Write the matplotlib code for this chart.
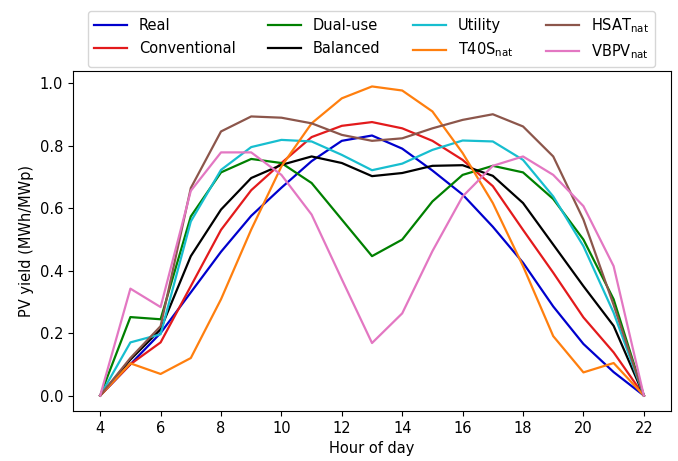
import matplotlib.pyplot as plt
import numpy as np

# Hourly PV yield per configuration (MWh/MWp)
hours = np.arange(4, 23)

real = [0.0, 0.10, 0.20, 0.33, 0.46, 0.575, 0.665, 0.75, 0.815, 0.832,
        0.79, 0.72, 0.643, 0.54, 0.425, 0.285, 0.165, 0.075, 0.0]
conventional = [0.0, 0.10, 0.17, 0.35, 0.53, 0.657, 0.744, 0.827, 0.863, 0.875,
                0.855, 0.815, 0.754, 0.67, 0.53, 0.393, 0.25, 0.138, 0.0]
dual_use = [0.0, 0.251, 0.244, 0.573, 0.714, 0.757, 0.744, 0.68, 0.563, 0.446,
            0.499, 0.621, 0.706, 0.735, 0.714, 0.629, 0.499, 0.308, 0.0]
balanced = [0.0, 0.115, 0.212, 0.446, 0.595, 0.696, 0.738, 0.765, 0.744, 0.702,
            0.712, 0.735, 0.737, 0.703, 0.616, 0.483, 0.35, 0.223, 0.0]
utility = [0.0, 0.17, 0.196, 0.557, 0.722, 0.795, 0.818, 0.813, 0.77, 0.721,
           0.742, 0.786, 0.816, 0.813, 0.754, 0.637, 0.478, 0.265, 0.0]
t40s = [0.0, 0.103, 0.069, 0.12, 0.308, 0.531, 0.733, 0.871, 0.951, 0.989,
        0.976, 0.909, 0.776, 0.616, 0.414, 0.19, 0.074, 0.104, 0.0]
hsat = [0.0, 0.12, 0.222, 0.664, 0.845, 0.893, 0.889, 0.871, 0.834, 0.815,
        0.823, 0.855, 0.882, 0.90, 0.861, 0.765, 0.563, 0.29, 0.0]
vbpv = [0.0, 0.342, 0.283, 0.655, 0.778, 0.778, 0.706, 0.579, 0.372, 0.168,
        0.263, 0.462, 0.637, 0.735, 0.765, 0.706, 0.606, 0.414, 0.0]

series = [
    ('Real', real, 'mediumblue'),
    ('Conventional', conventional, '#e31a1c'),
    ('Dual-use', dual_use, 'green'),
    ('Balanced', balanced, 'black'),
    ('Utility', utility, '#17becf'),
    (r'T40S$_\mathregular{nat}$', t40s, '#ff7f0e'),
    (r'HSAT$_\mathregular{nat}$', hsat, '#8c564b'),
    (r'VBPV$_\mathregular{nat}$', vbpv, '#e377c2'),
]

plt.rcParams['font.size'] = 10.5

fig = plt.figure(figsize=(6.78, 4.61), dpi=100)
ax = fig.add_axes([0.1077, 0.1085, 0.8820, 0.7375])

for label, values, color in series:
    ax.plot(hours, values, color=color, linewidth=1.6, label=label)

ax.set_xticks(np.arange(4, 23, 2))
ax.set_yticks(np.arange(0, 1.01, 0.2))
ax.set_xlabel('Hour of day')
ax.set_ylabel('PV yield (MWh/MWp)')

fig.legend(loc='upper left', bbox_to_anchor=(0.1298, 0.977), ncol=4,
           borderaxespad=0, handlelength=2.3, columnspacing=2.2)

fig.savefig('out.png', dpi=100)
